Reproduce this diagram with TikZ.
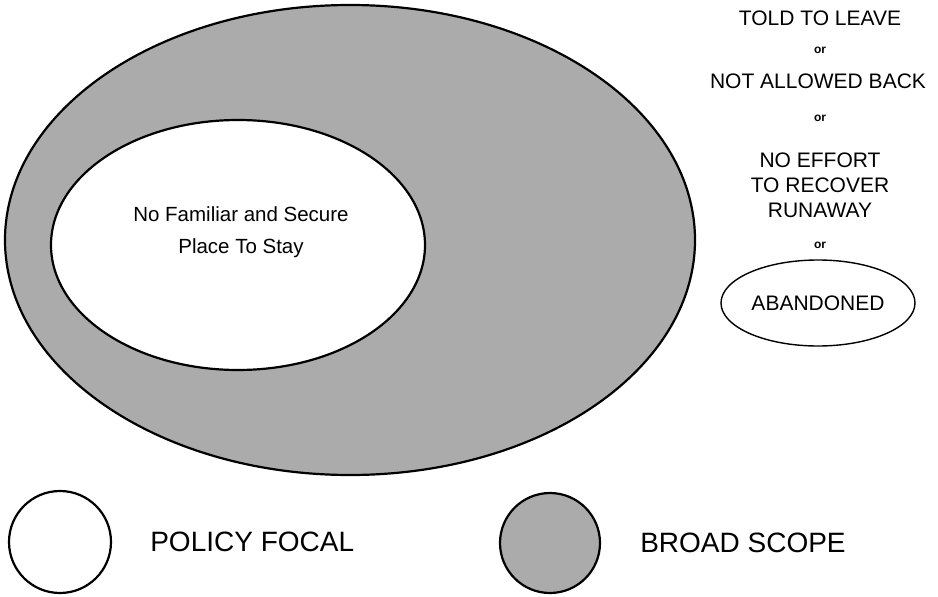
\documentclass[tikz,border=0pt]{standalone}
\usepackage{fontspec}
\setmainfont{Liberation Sans}
\usetikzlibrary{shapes.geometric, positioning}

\begin{document}
\begin{tikzpicture}[x=1pt, y=-1pt,
        outline/.style={draw=black, line width=2.2pt},
        scope/.style={ellipse, outline, fill=black!33, inner sep=0pt},
        focal/.style={ellipse, outline, fill=white, inner sep=0pt},
        label/.style={font=\fontsize{21}{25}\selectfont, align=center, inner sep=0pt},
        small/.style={font=\fontsize{20.5}{32}\selectfont, align=center, inner sep=0pt},
        orword/.style={font=\bfseries\fontsize{12}{12}\selectfont, inner sep=0pt},
        legend/.style={font=\fontsize{28}{30}\selectfont, anchor=west, inner sep=0pt}]
    \useasboundingbox (0,0) rectangle (938,597);

    % the two ellipses
    \node[scope, minimum width=690, minimum height=470] (broad) at (350,240) {};
    \node[focal, minimum width=374, minimum height=250] (policy) at (238,245) {};
    \node[small] (nofamiliar) at (241,232) {No Familiar and Secure\\Place To Stay};

    % right column
    \node[label] (told) at (820,18) {TOLD TO LEAVE};
    \node[orword] (or1) at (820,50) {or};
    \node[label] (notback) at (818,81) {NOT ALLOWED BACK};
    \node[orword] (or2) at (820,118) {or};
    \node[label] (noeffort) at (820,185) {NO EFFORT\\TO RECOVER\\RUNAWAY};
    \node[orword] (or3) at (820,245) {or};
    \node[ellipse, draw=black, line width=1.4pt, minimum width=194, minimum height=86,
        inner sep=0pt] (abandoned) at (818,303) {};
    \node[label] (abtext) at (abandoned) {ABANDONED};

    % legend
    \node[circle, outline, fill=white, minimum size=102, inner sep=0pt] (keyfocal) at (60,542) {};
    \node[legend, right=38 of keyfocal.east] (focaltext) {POLICY FOCAL};
    \node[circle, outline, fill=black!33, minimum size=100, inner sep=0pt] (keybroad) at (550,543) {};
    \node[legend, right=39 of keybroad.east] (broadtext) {BROAD SCOPE};
\end{tikzpicture}
\end{document}
